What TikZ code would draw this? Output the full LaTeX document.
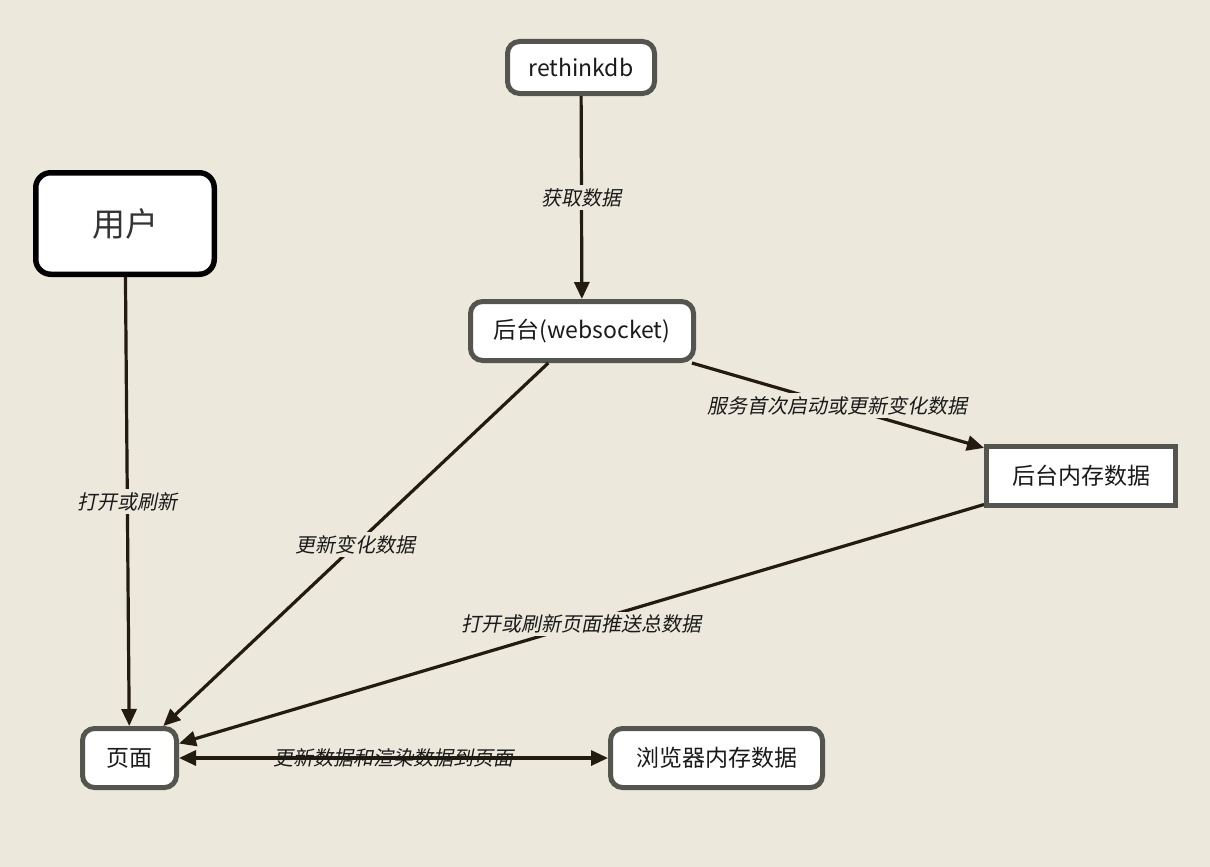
\documentclass[tikz,border=0pt]{standalone}
\usepackage{fontspec}
\setmainfont{Noto Sans CJK SC}
\newfontfamily\cjkit[FakeSlant=0.2]{Noto Sans CJK SC}
\usetikzlibrary{arrows.meta}
\definecolor{bg}{HTML}{ECE8DC}
\definecolor{bord}{HTML}{55554F}
\definecolor{edgec}{HTML}{231A10}
\definecolor{txt}{HTML}{1A1A1A}
\tikzset{
  box/.style={draw=bord, line width=5pt, fill=white, rounded corners=12pt,
    inner sep=0pt, text=txt, font=\fontsize{23}{27}\selectfont},
  userbox/.style={draw=black, line width=5.5pt, fill=white, rounded corners=15pt,
    inner sep=0pt, text=black!80, font=\fontsize{33}{38}\selectfont},
  sqbox/.style={box, rounded corners=0pt},
  conn/.style={draw=edgec, line width=3.2pt, -{Triangle[length=17pt,width=15pt]}},
  bconn/.style={draw=edgec, line width=3.2pt, {Triangle[length=17pt,width=15pt]}-{Triangle[length=17pt,width=15pt]}},
  lbl/.style={fill=bg, inner sep=3pt, text=txt, font=\cjkit\fontsize{20}{24}\selectfont},
  lblnf/.style={inner sep=3pt, text=txt, font=\cjkit\fontsize{20}{24}\selectfont}
}
\begin{document}
\begin{tikzpicture}[x=1pt,y=-1pt]
\fill[bg] (0,0) rectangle (1210,867);
\useasboundingbox (0,0) rectangle (1210,867);

\node[box, minimum width=147pt, minimum height=52pt] (db) at (581,67.5) {rethinkdb};
\node[userbox, minimum width=178.5pt, minimum height=101.5pt] (user) at (125,223.5) {用户};
\node[box, minimum width=223pt, minimum height=59pt] (ws) at (582,331) {后台(websocket)};
\node[sqbox, minimum width=189pt, minimum height=59pt] (mem) at (1081,476) {后台内存数据};
\node[box, minimum width=94pt, minimum height=59pt] (page) at (129.5,758) {页面};
\node[box, minimum width=212pt, minimum height=59pt] (bmem) at (716.5,758) {浏览器内存数据};

\draw[conn] (db) -- node[lbl] {获取数据} (ws);
\draw[conn] (user) -- node[lbl] {打开或刷新} (page);
\draw[conn] (ws) -- node[lbl] {更新变化数据} (page);
\draw[conn] (ws) -- node[lbl] {服务首次启动或更新变化数据} (mem);
\draw[conn] (mem) -- node[lbl] {打开或刷新页面推送总数据} (page);
\draw[bconn] (page) -- node[lblnf] {更新数据和渲染数据到页面} (bmem);
\end{tikzpicture}
\end{document}
